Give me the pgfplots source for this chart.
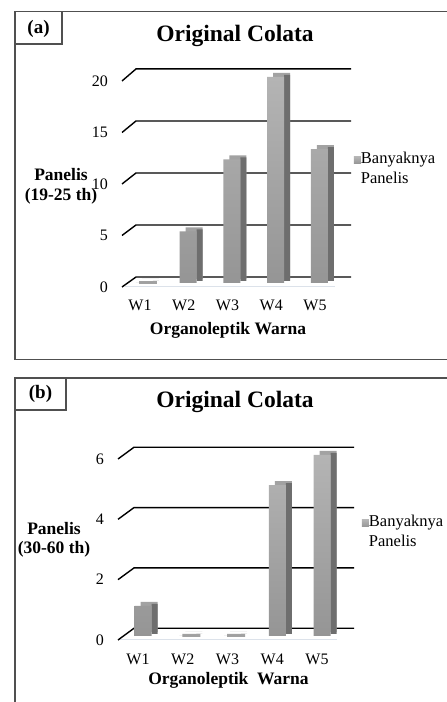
\documentclass[border=0pt]{standalone}
\usepackage{pgfplots}
\pgfplotsset{compat=1.18}
\usepackage{fontspec}
\setmainfont{Liberation Serif}
\definecolor{framecol}{HTML}{505050}
\definecolor{fronttop}{HTML}{B4B4B4}
\definecolor{frontbot}{HTML}{959595}
\definecolor{barside}{HTML}{6E6E6E}
\definecolor{bartop}{HTML}{A2A2A2}
\definecolor{floorcol}{HTML}{DCE2EA}
\definecolor{legcol}{HTML}{A0A0A0}
\newcommand{\legf}{\fontsize{16.5}{19.5}\selectfont}
\pgfplotsset{
  colata/.style={
    scale only axis, clip=false, enlargelimits=false,
    axis line style={draw=none}, tick style={draw=none},
    xtick={1,2,3,4,5}, xticklabels={W1,W2,W3,W4,W5},
    /pgf/number format/assume math mode=true,
    tick label style={font=\fontsize{16}{19}\selectfont},
    xticklabel style={anchor=base, yshift=-24pt},
    yticklabel style={anchor=east, inner sep=0pt, xshift=-14pt},
    legend image code/.code={\fill[legcol] (0pt,0.5pt) rectangle (7pt,7.5pt);},
    legend style={draw=none, fill=none, inner sep=0pt, outer sep=0pt,
      anchor=north west, font=\legf,
      nodes={inner sep=0pt, align=left, font=\legf},
      /tikz/every even column/.append style={column sep=3pt}},
  },
  gridln/.style={black, line width=1.4pt, forget plot},
}
\begin{document}
\begin{tikzpicture}[x=1pt,y=1pt]
\path[use as bounding box] (0,0) rectangle (447,702);
% panel frames
\draw[framecol, line width=1.2pt] (447,342.6) -- (15,342.6) -- (15,690.8) -- (447,690.8);
\draw[framecol, line width=1.2pt] (15,658) -- (62,658) -- (62,690.8);
\draw[framecol, line width=1.2pt] (15,0) -- (15,324) -- (447,324);
\draw[framecol, line width=1.2pt] (15,292) -- (66,292) -- (66,324);
\node[font=\bfseries\fontsize{19}{22}\selectfont] at (38.5,673) {(a)};
\node[font=\bfseries\fontsize{19}{22}\selectfont] at (40.5,308) {(b)};
% titles and labels
\node[font=\bfseries\fontsize{23.5}{28}\selectfont] at (235,666) {Original Colata};
\node[font=\bfseries\fontsize{23.5}{28}\selectfont] at (235,300) {Original Colata};
\node[font=\bfseries\fontsize{17.5}{20}\selectfont] at (228,372) {Organoleptik Warna};
\node[font=\bfseries\fontsize{17.5}{20}\selectfont] at (228.5,22) {Organoleptik~ Warna};
\node[font=\bfseries\fontsize{17.5}{20}\selectfont, align=center] at (61,516) {Panelis\\(19-25 th)};
\node[font=\bfseries\fontsize{17.5}{19}\selectfont, align=center] at (54,162) {Panelis\\(30-60 th)};

% ---------- panel (a) ----------
\begin{axis}[colata, at={(122pt,415pt)}, anchor=south west,
  width=215pt, height=206pt,
  xmin=0.589, xmax=5.503, ymin=0, ymax=20, ytick={0,5,10,15,20},
  legend style={at={(1.079,0.655)}}]
\addplot[floorcol, line width=1pt, forget plot] coordinates {(0.66,0) (5.46,0)};
\addplot[gridln] coordinates {(0.589,0) (0.909,0.97) (5.823,0.97)};
\addplot[gridln] coordinates {(0.589,5) (0.909,6.02) (5.823,6.02)};
\addplot[gridln] coordinates {(0.589,10) (0.909,11.07) (5.823,11.07)};
\addplot[gridln] coordinates {(0.589,15) (0.909,16.12) (5.823,16.12)};
\addplot[gridln] coordinates {(0.589,20) (0.909,21.17) (5.823,21.17)};
% flat cap of the zero bar
\addplot[ybar, bar width=18pt, fill=bartop, draw=none, xshift=8pt, yshift=3pt, forget plot]
  coordinates {(1,0.3)};
% back box (top face)
\addplot[ybar, bar width=17pt, fill=bartop, draw=none, xshift=10.5pt, yshift=8pt, forget plot]
  coordinates {(1,0) (2,5) (3,12) (4,20) (5,13)};
% side face
\addplot[ybar, bar width=6pt, bar shift=11.5pt, fill=barside, draw=none, xshift=4.5pt, yshift=6pt, forget plot]
  coordinates {(1,0) (2,5) (3,12) (4,20) (5,13)};
% front face
\addplot[ybar, bar width=17pt, draw=none, top color=fronttop, bottom color=frontbot, xshift=4.5pt, yshift=4pt]
  coordinates {(1,0) (2,5) (3,12) (4,20) (5,13)};
\addlegendentry{\legf Banyaknya\\\legf Panelis}
\end{axis}

% ---------- panel (b) ----------
\begin{axis}[colata, at={(118pt,62pt)}, anchor=south west,
  width=220pt, height=181pt,
  xmin=0.553, xmax=5.469, ymin=0, ymax=6, ytick={0,2,4,6},
  legend style={at={(1.109,0.69)}}]
\addplot[floorcol, line width=1pt, forget plot] coordinates {(0.6,0) (5.45,0)};
\addplot[gridln] coordinates {(0.553,0) (0.911,0.39) (5.827,0.39)};
\addplot[gridln] coordinates {(0.553,2) (0.911,2.39) (5.827,2.39)};
\addplot[gridln] coordinates {(0.553,4) (0.911,4.39) (5.827,4.39)};
\addplot[gridln] coordinates {(0.553,6) (0.911,6.39) (5.827,6.39)};
\addplot[ybar, bar width=18pt, fill=bartop, draw=none, xshift=8.5pt, yshift=3pt, forget plot]
  coordinates {(2,0.1) (3,0.1)};
\addplot[ybar, bar width=17pt, fill=bartop, draw=none, xshift=11pt, yshift=8pt, forget plot]
  coordinates {(1,1) (2,0) (3,0) (4,5) (5,6)};
\addplot[ybar, bar width=6pt, bar shift=11.5pt, fill=barside, draw=none, xshift=5pt, yshift=6pt, forget plot]
  coordinates {(1,1) (2,0) (3,0) (4,5) (5,6)};
\addplot[ybar, bar width=17pt, draw=none, top color=fronttop, bottom color=frontbot, xshift=5pt, yshift=4pt]
  coordinates {(1,1) (2,0) (3,0) (4,5) (5,6)};
\addlegendentry{\legf Banyaknya\\\legf Panelis}
\end{axis}
\end{tikzpicture}
\end{document}
